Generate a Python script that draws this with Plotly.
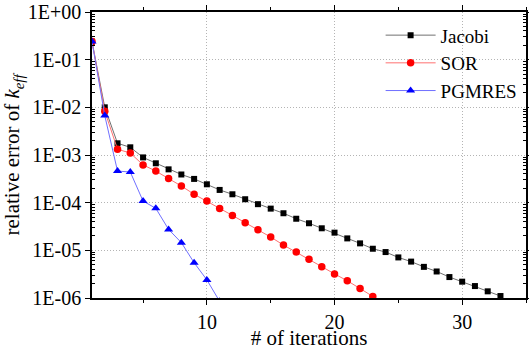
import plotly.graph_objects as go

# ---- data ----
jacobi_x = list(range(1, 34))
jacobi_y = [0.24, 1.0e-2, 1.76e-3, 1.45e-3, 8.9e-4, 6.7e-4, 5.0e-4, 3.9e-4, 3.15e-4, 2.43e-4,
            1.85e-4, 1.5e-4, 1.18e-4, 9.3e-5, 7.5e-5, 6.0e-5, 4.6e-5, 3.7e-5, 2.9e-5, 2.35e-5,
            1.78e-5, 1.4e-5, 1.08e-5, 9.2e-6, 7.1e-6, 5.8e-6, 4.5e-6, 3.6e-6, 2.75e-6, 2.2e-6,
            1.78e-6, 1.38e-6, 1.1e-6]
sor_x = list(range(1, 24))
sor_y = [0.24, 8.3e-3, 1.32e-3, 1.10e-3, 6.2e-4, 4.6e-4, 3.2e-4, 2.24e-4, 1.5e-4, 1.08e-4,
         7.5e-5, 5.4e-5, 3.8e-5, 2.7e-5, 1.9e-5, 1.29e-5, 9.2e-6, 6.5e-6, 4.55e-6, 3.2e-6,
         2.3e-6, 1.58e-6, 1.08e-6]
pgmres_x = list(range(1, 12))
pgmres_y = [0.24, 6.7e-3, 4.6e-4, 4.4e-4, 1.08e-4, 7.6e-5, 2.75e-5, 1.45e-5, 5.5e-6, 2.4e-6, 8.5e-7]

y_tickvals = [1, 1e-1, 1e-2, 1e-3, 1e-4, 1e-5, 1e-6]
y_ticktext = ["1E+00", "1E-01", "1E-02", "1E-03", "1E-04", "1E-05", "1E-06"]
y_minor = [m * 10.0 ** e for e in range(-6, 0) for m in range(2, 10)]

FONT = "Times New Roman, Liberation Serif, Tinos, serif"

fig = go.Figure()
fig.add_trace(go.Scatter(x=jacobi_x, y=jacobi_y, name="Jacobi", mode="lines+markers",
                         line=dict(color="#707070", width=1),
                         marker=dict(symbol="square", size=6, color="black")))
fig.add_trace(go.Scatter(x=sor_x, y=sor_y, name="SOR", mode="lines+markers",
                         line=dict(color="#ff7070", width=1),
                         marker=dict(symbol="circle", size=7.5, color="red")))
fig.add_trace(go.Scatter(x=pgmres_x, y=pgmres_y, name="PGMRES", mode="lines+markers",
                         line=dict(color="#7070ff", width=1),
                         marker=dict(symbol="triangle-up", size=8, color="blue")))

fig.update_layout(
    width=529, height=350,
    margin=dict(l=92, r=3, t=12, b=52),
    paper_bgcolor="white", plot_bgcolor="white",
    font=dict(family=FONT, size=21, color="black"),
    showlegend=True,
    legend=dict(x=0.665, y=0.985, xanchor="left", yanchor="top",
                bgcolor="rgba(0,0,0,0)", font=dict(size=19, family=FONT),
                itemwidth=50, tracegroupgap=0),
)
fig.update_xaxes(
    range=[1, 35], tick0=0, dtick=10, automargin=False,
    title=dict(text="# of iterations", font=dict(size=21, family=FONT), standoff=6),
    tickfont=dict(size=20, family=FONT),
    showline=True, linecolor="black", linewidth=1.5, mirror="allticks",
    ticks="outside", ticklen=5, tickcolor="black",
    showgrid=True, gridcolor="#b4b4b4", griddash="1px,2px", gridwidth=1,
    minor=dict(dtick=5, tick0=0, ticks="outside", ticklen=3, tickcolor="black", showgrid=False),
    zeroline=False,
)
fig.update_yaxes(
    type="log", range=[-6, 0], automargin=False,
    tickmode="array", tickvals=y_tickvals, ticktext=y_ticktext,
    title=dict(text="relative error of <i>k</i><sub><i>eff</i></sub>",
               font=dict(size=21, family=FONT), standoff=2),
    tickfont=dict(size=20, family=FONT),
    showline=True, linecolor="black", linewidth=1.5, mirror="allticks",
    ticks="outside", ticklen=5, tickcolor="black",
    showgrid=True, gridcolor="#b4b4b4", griddash="1px,2px", gridwidth=1,
    minor=dict(tickmode="array", tickvals=y_minor, ticks="inside", ticklen=3,
               tickcolor="black", showgrid=False),
    zeroline=False,
)

fig.write_html("out.html", config={"displayModeBar": False},
               post_script="document.body.style.margin='0';")
